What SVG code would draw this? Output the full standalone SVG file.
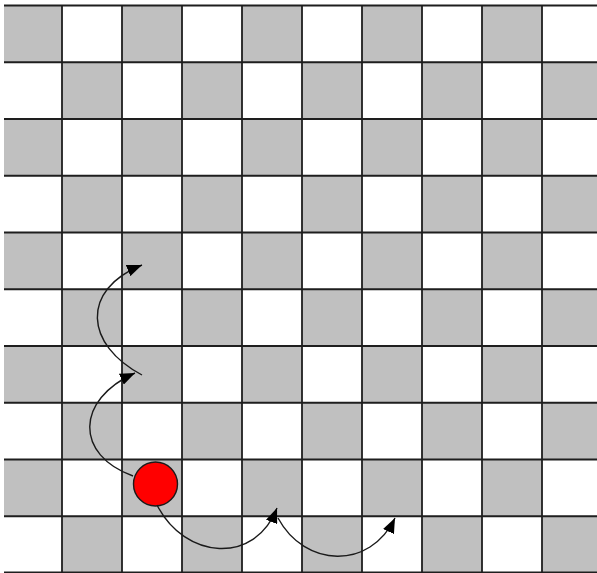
<svg xmlns="http://www.w3.org/2000/svg" width="597" height="573" viewBox="0 0 597 573">
<style>
.g{fill:#c0c0c0}
.ln{stroke:#1e1e1e;stroke-width:1.8;fill:none}
.arr{stroke:#1a1a1a;stroke-width:1.4;fill:none;marker-end:url(#ah)}
</style>
<defs>
<marker id="ah" markerUnits="userSpaceOnUse" markerWidth="16" markerHeight="12" refX="15" refY="6" orient="auto" viewBox="0 0 16 12">
<path d="M0,0 L15,6 L0,12 z" fill="#000"/>
</marker>
</defs>
<rect width="597" height="573" fill="#fff"/>
<g id="board">
<g id="cells">
<rect class="g" x="4" y="5.5" width="58" height="56.75"/>
<rect class="g" x="122" y="5.5" width="60" height="56.75"/>
<rect class="g" x="242" y="5.5" width="60" height="56.75"/>
<rect class="g" x="362" y="5.5" width="60" height="56.75"/>
<rect class="g" x="482" y="5.5" width="60" height="56.75"/>
<rect class="g" x="62" y="62.25" width="60" height="56.75"/>
<rect class="g" x="182" y="62.25" width="60" height="56.75"/>
<rect class="g" x="302" y="62.25" width="60" height="56.75"/>
<rect class="g" x="422" y="62.25" width="60" height="56.75"/>
<rect class="g" x="542" y="62.25" width="55" height="56.75"/>
<rect class="g" x="4" y="119" width="58" height="56.75"/>
<rect class="g" x="122" y="119" width="60" height="56.75"/>
<rect class="g" x="242" y="119" width="60" height="56.75"/>
<rect class="g" x="362" y="119" width="60" height="56.75"/>
<rect class="g" x="482" y="119" width="60" height="56.75"/>
<rect class="g" x="62" y="175.75" width="60" height="56.75"/>
<rect class="g" x="182" y="175.75" width="60" height="56.75"/>
<rect class="g" x="302" y="175.75" width="60" height="56.75"/>
<rect class="g" x="422" y="175.75" width="60" height="56.75"/>
<rect class="g" x="542" y="175.75" width="55" height="56.75"/>
<rect class="g" x="4" y="232.5" width="58" height="56.75"/>
<rect class="g" x="122" y="232.5" width="60" height="56.75"/>
<rect class="g" x="242" y="232.5" width="60" height="56.75"/>
<rect class="g" x="362" y="232.5" width="60" height="56.75"/>
<rect class="g" x="482" y="232.5" width="60" height="56.75"/>
<rect class="g" x="62" y="289.25" width="60" height="56.75"/>
<rect class="g" x="182" y="289.25" width="60" height="56.75"/>
<rect class="g" x="302" y="289.25" width="60" height="56.75"/>
<rect class="g" x="422" y="289.25" width="60" height="56.75"/>
<rect class="g" x="542" y="289.25" width="55" height="56.75"/>
<rect class="g" x="4" y="346" width="58" height="56.75"/>
<rect class="g" x="122" y="346" width="60" height="56.75"/>
<rect class="g" x="242" y="346" width="60" height="56.75"/>
<rect class="g" x="362" y="346" width="60" height="56.75"/>
<rect class="g" x="482" y="346" width="60" height="56.75"/>
<rect class="g" x="62" y="402.75" width="60" height="56.75"/>
<rect class="g" x="182" y="402.75" width="60" height="56.75"/>
<rect class="g" x="302" y="402.75" width="60" height="56.75"/>
<rect class="g" x="422" y="402.75" width="60" height="56.75"/>
<rect class="g" x="542" y="402.75" width="55" height="56.75"/>
<rect class="g" x="4" y="459.5" width="58" height="56.75"/>
<rect class="g" x="122" y="459.5" width="60" height="56.75"/>
<rect class="g" x="242" y="459.5" width="60" height="56.75"/>
<rect class="g" x="362" y="459.5" width="60" height="56.75"/>
<rect class="g" x="482" y="459.5" width="60" height="56.75"/>
<rect class="g" x="62" y="516.25" width="60" height="56.75"/>
<rect class="g" x="182" y="516.25" width="60" height="56.75"/>
<rect class="g" x="302" y="516.25" width="60" height="56.75"/>
<rect class="g" x="422" y="516.25" width="60" height="56.75"/>
<rect class="g" x="542" y="516.25" width="55" height="56.75"/>
</g>
<g id="gridlines" class="ln">
<path d="M4,5.5H597M4,62.25H597M4,119H597M4,175.75H597M4,232.5H597M4,289.25H597M4,346H597M4,402.75H597M4,459.5H597M4,516.25H597M4,572.5H597"/>
<path d="M62,5.5V573M122,5.5V573M182,5.5V573M242,5.5V573M302,5.5V573M362,5.5V573M422,5.5V573M482,5.5V573M542,5.5V573"/>
</g>
</g>
<g id="token">
<circle cx="155.5" cy="484" r="22" fill="#ff0000" stroke="#1a1a1a" stroke-width="1.4"/>
</g>
<g id="connectors">
<path class="arr" d="M133,476 C75,455 75,400 135,373"/>
<path class="arr" d="M142,375 C85,345 80,290 142,265"/>
<path class="arr" d="M157,505 C185,560 255,565 277,508"/>
<path class="arr" d="M278,518 C305,568 370,570 395,518"/>
</g>
</svg>
